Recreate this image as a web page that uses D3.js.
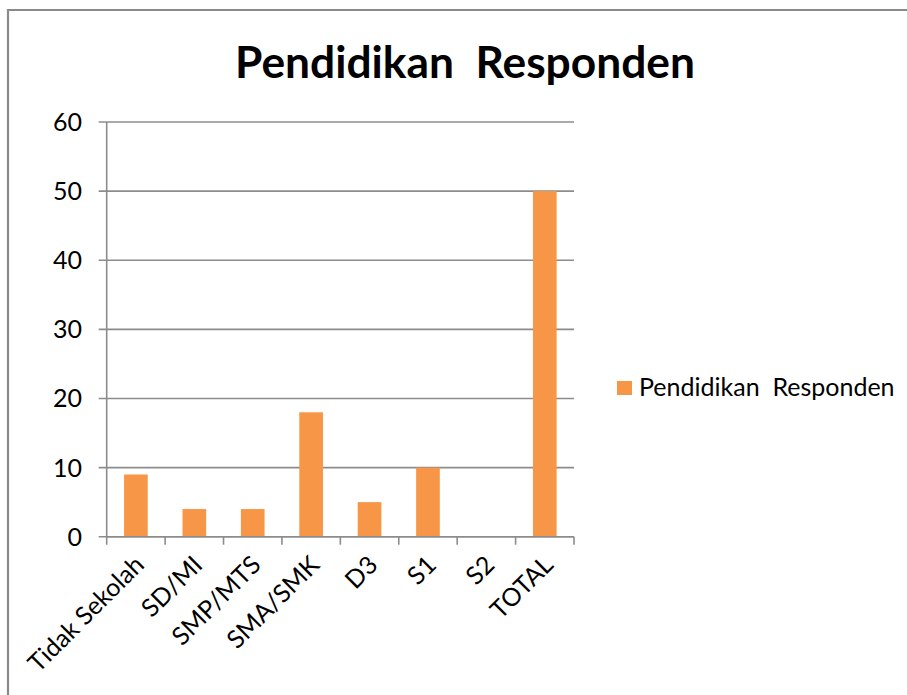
<!DOCTYPE html>
<html>
<head>
<meta charset="utf-8">
<script src="https://cdn.jsdelivr.net/npm/d3@7"></script>
<style>
  body { margin: 0; background: #fff; }
  svg text { font-family: Lato, "Open Sans", sans-serif; fill: #000; }
</style>
</head>
<body>
<svg id="chart" width="907" height="695"></svg>
<script>
// Education level of respondents
const categories = ["Tidak Sekolah", "SD/MI", "SMP/MTS", "SMA/SMK", "D3", "S1", "S2", "TOTAL"];
const values = [9, 4, 4, 18, 5, 10, 0, 50];
const seriesName = "Pendidikan  Responden";
const titleText = "Pendidikan  Responden";
const yTicks = [0, 10, 20, 30, 40, 50, 60];

const svg = d3.select("#chart");
const gridColor = "#8c8c8c";
const barColor = "#F79646";
const labelSize = 25;

const plot = { left: 106.7, right: 574, top: 122, bottom: 536.7 };

// frame around the chart
svg.append("path")
  .attr("d", "M8,700V10H912")
  .attr("fill", "none")
  .attr("stroke", "#8a8a8a")
  .attr("stroke-width", 2.2);

// title, sized to its box width
const title = svg.append("text")
  .attr("x", 465).attr("y", 78)
  .attr("text-anchor", "middle")
  .style("white-space", "pre")
  .attr("font-weight", 700)
  .attr("font-size", 40)
  .text(titleText);
{
  const w = title.node().getComputedTextLength();
  title.attr("font-size", 40 * 460 / w);
}

const x = d3.scaleBand()
  .domain(categories)
  .range([plot.left, plot.right])
  .paddingInner(0.595)
  .paddingOuter(0.2975);

const y = d3.scaleLinear()
  .domain([0, 60])
  .range([plot.bottom, plot.top]);

// horizontal gridlines with left ticks
svg.append("g")
  .selectAll("line")
  .data(yTicks)
  .join("line")
  .attr("x1", plot.left - 8).attr("x2", plot.right)
  .attr("y1", d => y(d)).attr("y2", d => y(d))
  .attr("stroke", gridColor)
  .attr("stroke-width", 1.6);

// y tick labels
svg.append("g")
  .selectAll("text")
  .data(yTicks)
  .join("text")
  .attr("x", 82)
  .attr("y", d => y(d))
  .attr("dy", "0.36em")
  .attr("text-anchor", "end")
  .attr("font-size", labelSize)
  .text(d => d);

// bars
svg.append("g")
  .selectAll("rect")
  .data(values)
  .join("rect")
  .attr("x", (d, i) => x(categories[i]))
  .attr("width", x.bandwidth())
  .attr("y", d => y(d))
  .attr("height", d => y(0) - y(d))
  .attr("fill", barColor);

// vertical axis line
svg.append("line")
  .attr("x1", plot.left).attr("x2", plot.left)
  .attr("y1", plot.top).attr("y2", plot.bottom)
  .attr("stroke", gridColor).attr("stroke-width", 1.6);

// category axis with boundary ticks
const step = x.step();
const boundaries = d3.range(categories.length + 1).map(i => plot.left + i * step);
svg.append("line")
  .attr("x1", plot.left).attr("x2", plot.right)
  .attr("y1", plot.bottom).attr("y2", plot.bottom)
  .attr("stroke", gridColor).attr("stroke-width", 1.6);
svg.append("g")
  .selectAll("line")
  .data(boundaries)
  .join("line")
  .attr("x1", d => d).attr("x2", d => d)
  .attr("y1", plot.bottom).attr("y2", plot.bottom + 8)
  .attr("stroke", gridColor).attr("stroke-width", 1.6);

// rotated category labels
svg.append("g")
  .selectAll("text")
  .data(categories)
  .join("text")
  .attr("text-anchor", "end")
  .attr("font-size", labelSize)
  .attr("dy", "0.72em")
  .attr("transform", d => `translate(${x(d) + x.bandwidth() / 2 - 3},${plot.bottom + 17}) rotate(-45)`)
  .text(d => d);

// legend
const legend = svg.append("g");
legend.append("rect")
  .attr("x", 617).attr("y", 381)
  .attr("width", 15).attr("height", 14)
  .attr("fill", barColor);
legend.append("text")
  .attr("x", 639).attr("y", 396)
  .attr("font-size", labelSize)
  .style("white-space", "pre")
  .text(seriesName);
</script>
</body>
</html>
